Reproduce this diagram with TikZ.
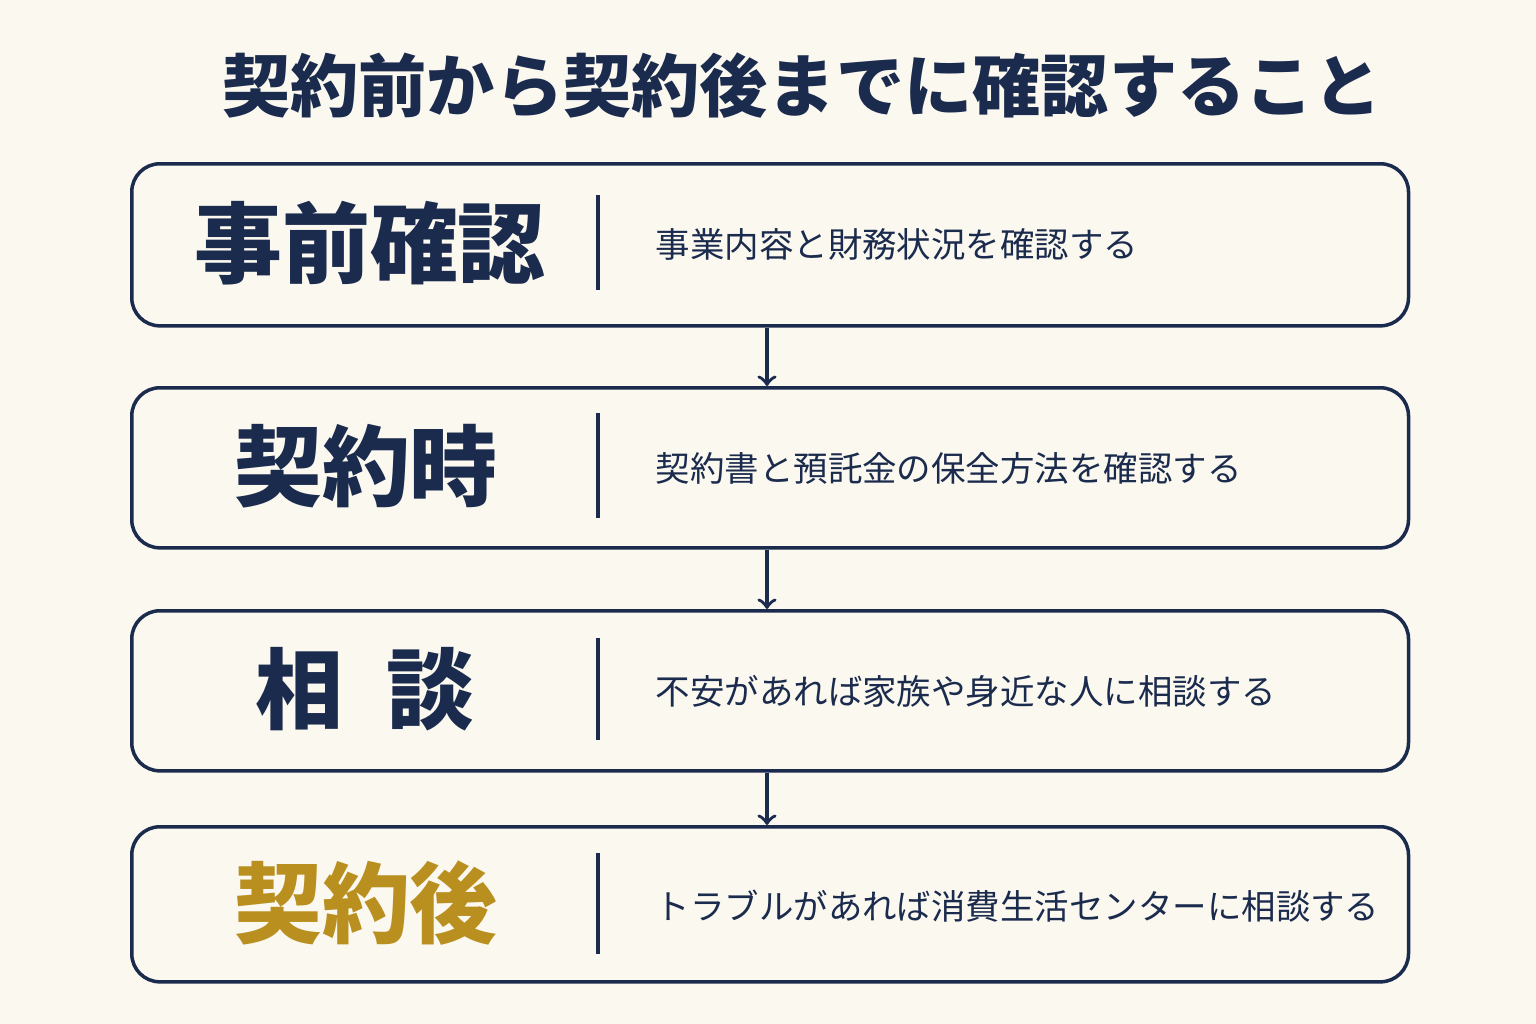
\documentclass[tikz,border=0pt]{standalone}
\usepackage{fontspec}
\setmainfont{Noto Sans CJK JP}
\usetikzlibrary{positioning}
\definecolor{navy}{HTML}{1B2B4D}
\definecolor{gold}{HTML}{B98F20}
\definecolor{paper}{HTML}{FBF8F0}
\tikzset{stage/.style={rectangle,draw=navy,line width=1pt,rounded corners=8pt,minimum width=12.76cm,anchor=north west}}
\tikzset{head/.style={font=\fontsize{25}{25}\selectfont\bfseries,text=navy}}
\tikzset{note/.style={font=\fontsize{9.8}{10}\selectfont,text=navy,anchor=west,inner sep=0pt}}
\begin{document}
\begin{tikzpicture}[x=0.01cm,y=-0.01cm,>=to]
        \fill[paper] (0,0) rectangle (1536,1024);
        \useasboundingbox (0,0) rectangle (1536,1024);
        \node[font=\fontsize{19.4}{19}\selectfont\bfseries,text=navy] (title) at (802,86) {契約前から契約後までに確認すること};

        \node[stage,minimum height=1.62cm] (s1) at (130,162) {};
        \node[stage,minimum height=1.60cm] (s2) at (130,386) {};
        \node[stage,minimum height=1.60cm] (s3) at (130,609) {};
        \node[stage,minimum height=1.55cm] (s4) at (130,825) {};

        \node[head] (h1) at (370,243) {事前確認};
        \node[head] (h2) at (366,466) {契約時};
        \node[head] (h3) at (365,689) {相\hspace{0.5em}談};
        \node[head,text=gold] (h4) at (366,903) {契約後};

        \draw[navy,line width=1pt] (598,195) -- (598,290);
        \draw[navy,line width=1pt] (598,413) -- (598,518);
        \draw[navy,line width=1pt] (598,638) -- (598,740);
        \draw[navy,line width=1pt] (598,853) -- (598,954);

        \node[note] (n1) at (655,244) {事業内容と財務状況を確認する};
        \node[note] (n2) at (655,468) {契約書と預託金の保全方法を確認する};
        \node[note] (n3) at (655,691) {不安があれば家族や身近な人に相談する};
        \node[note] (n4) at (655,906) {トラブルがあれば消費生活センターに相談する};

        \draw [->,navy,line width=1pt] (s1.south -| 767,0) -- (s2.north -| 767,0);
        \draw [->,navy,line width=1pt] (s2.south -| 767,0) -- (s3.north -| 767,0);
        \draw [->,navy,line width=1pt] (s3.south -| 767,0) -- (s4.north -| 767,0);
\end{tikzpicture}
\end{document}
